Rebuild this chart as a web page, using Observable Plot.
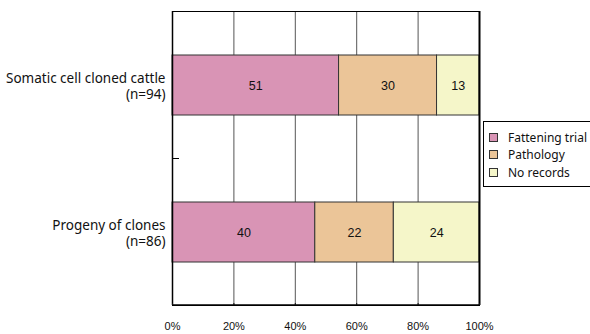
<!DOCTYPE html>
<html>
<head>
<meta charset="utf-8">
<script src="https://cdn.jsdelivr.net/npm/d3@7"></script>
<script src="https://cdn.jsdelivr.net/npm/@observablehq/plot@0.6"></script>
<style>
  html, body { margin: 0; padding: 0; background: #fff; overflow: hidden; }
  #wrap { position: relative; width: 590px; height: 334px; }
  #legend {
    position: absolute; left: 483px; top: 121px; width: 130px; height: 66px;
    border: 1px solid #000; background: #fff; box-sizing: border-box;
    font-family: "Noto Sans", sans-serif; font-size: 12px; color: #111;
    padding-top: 7px;
  }
  .row { display: flex; align-items: center; height: 17.3px; padding-left: 5px; }
  .sw { width: 7px; height: 7px; border: 1px solid #333; margin-right: 10px; }
</style>
</head>
<body>
<div id="wrap"></div>
<script>
// Groups and their sizes
const groups = ["Somatic cell cloned cattle", "Progeny of clones"];
const groupN = [94, 86];
// Outcome categories and fill colours
const outcomes = ["Fattening trial", "Pathology", "No records"];
const colors = ["#d994b5", "#ebc598", "#f5f6c9"];
// Number of animals per outcome, one array per group
const cloneCounts = [51, 30, 13];
const progenyCounts = [40, 22, 24];
const xTicks = [0, 20, 40, 60, 80, 100];

const counts = [cloneCounts, progenyCounts];
const rows = [];
groups.forEach((g, gi) => {
  outcomes.forEach((o, oi) => {
    rows.push({group: g, outcome: o, count: counts[gi][oi], pct: counts[gi][oi] / groupN[gi] * 100});
  });
});

const labelOf = new Map(groups.map((g, i) => [g, `${g}\n(n=${groupN[i]})`]));

// Inside tick on the y axis at the boundary between the two groups
function bandBoundaryTick(index, scales, values, dims) {
  const y = scales.y;
  const step = y.step ? y.step() : y.bandwidth();
  const boundary = y(groups[1]) - (step - y.bandwidth()) / 2;
  const x0 = scales.x(0);
  const g = d3.create("svg:g");
  g.append("line")
    .attr("x1", x0).attr("x2", x0 + 7)
    .attr("y1", boundary).attr("y2", boundary)
    .attr("stroke", "#000").attr("stroke-width", 1);
  return g.node();
}

// Bottom axis line along the plot's lower edge
function bottomLine(index, scales, values, dims) {
  const yb = dims.height - dims.marginBottom;
  const g = d3.create("svg:g");
  g.append("line")
    .attr("x1", scales.x(0)).attr("x2", scales.x(100))
    .attr("y1", yb).attr("y2", yb)
    .attr("stroke", "#000").attr("stroke-width", 1.5);
  return g.node();
}

const chart = Plot.plot({
  width: 590,
  height: 334,
  marginLeft: 172,
  marginRight: 111,
  marginTop: 11,
  marginBottom: 29,
  style: {background: "#fff"},
  x: {domain: [0, 100], ticks: xTicks, label: null},
  y: {domain: groups, paddingInner: 0.595, paddingOuter: 0.2975, axis: null},
  color: {domain: outcomes, range: colors},
  marks: [
    Plot.ruleX(xTicks.slice(1, -1), {stroke: "#555", strokeWidth: 1}),
    Plot.barX(rows, Plot.stackX({
      x: "pct", y: "group", fill: "outcome", z: "outcome", order: outcomes,
      stroke: "#333", strokeWidth: 1
    })),
    Plot.text(rows, Plot.stackX({
      x: "pct", y: "group", z: "outcome", text: "count", order: outcomes,
      fontFamily: "Liberation Sans, Arial, sans-serif", fontSize: 12.5, fill: "#111"
    })),
    Plot.frame({stroke: "#000", strokeWidth: 1}),
    Plot.ruleX([0], {stroke: "#000", strokeWidth: 1.5}),
    Plot.ruleX([100], {stroke: "#000", strokeWidth: 2}),
    bottomLine,
    Plot.axisX({
      ticks: xTicks, tickSize: -2, tickPadding: 19, tickFormat: d => `${d}%`, label: null,
      fontSize: 11, fontFamily: "Liberation Sans, Arial, sans-serif", color: "#111"
    }),
    Plot.text(groups, {
      x: 0, y: d => d, text: d => labelOf.get(d),
      textAnchor: "end", dx: -7, lineHeight: 1.22,
      fontFamily: "Noto Sans, sans-serif", fontSize: 13.5, fill: "#111"
    }),
    bandBoundaryTick
  ]
});

const wrap = document.getElementById("wrap");
wrap.appendChild(chart);

const legend = document.createElement("div");
legend.id = "legend";
outcomes.forEach((o, i) => {
  const row = document.createElement("div");
  row.className = "row";
  const sw = document.createElement("span");
  sw.className = "sw";
  sw.style.background = colors[i];
  const t = document.createElement("span");
  t.textContent = o;
  row.appendChild(sw);
  row.appendChild(t);
  legend.appendChild(row);
});
wrap.appendChild(legend);
</script>
</body>
</html>
